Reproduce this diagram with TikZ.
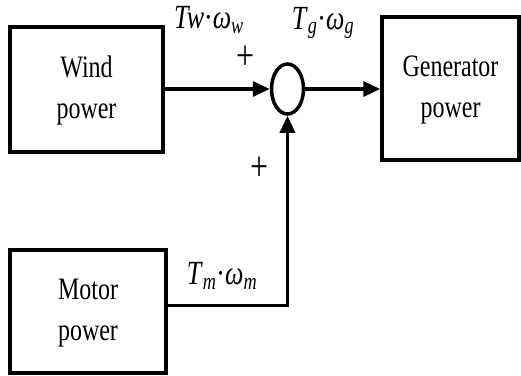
\documentclass[tikz,border=0pt]{standalone}
\usepackage{fontspec}
\setmainfont{Liberation Serif}
\usetikzlibrary{arrows.meta,shapes.geometric}
\newcommand{\tall}[1]{\scalebox{1}[1.3]{#1}}
\begin{document}
\begin{tikzpicture}[
    x=1pt, y=-1pt,
    blk/.style={rectangle, draw=black, line width=3.5pt, align=center, inner sep=0pt, font=\fontsize{24}{32}\selectfont},
    sum/.style={ellipse, draw=black, line width=3.5pt, minimum width=32pt, minimum height=50pt, inner sep=0pt},
    lbl/.style={inner sep=0pt, font=\fontsize{26}{28}\selectfont},
    arr/.style={->, >={Triangle[length=17pt,width=15pt]}, line width=3.5pt}
]
    \useasboundingbox (0,0) rectangle (521,375);

    % Blocks
    \node[blk, minimum width=153pt, minimum height=125pt] (wind) at (86.5,89.5) {\tall{\begin{tabular}{c}Wind\\power\end{tabular}}};
    \node[blk, minimum width=137pt, minimum height=143pt] (gen) at (450.5,88.5) {\tall{\begin{tabular}{c}Generator\\power\end{tabular}}};
    \node[blk, minimum width=156pt, minimum height=123pt] (motor) at (88,311.5) {\tall{\begin{tabular}{c}Motor\\power\end{tabular}}};
    \node[sum] (s) at (287.5,89) {};

    % Connections
    \draw[arr] (wind.east |- s) -- (s.west);
    \draw[arr] (s.east) -- (gen.west |- s);
    \draw[arr] ([yshift=6pt]motor.east) -| (s.south);

    % Labels
    \node[lbl] (lw) at (209,20) {\tall{\textit{Tw}·\textit{ω}\textsubscript{\textit{w}}}};
    \node[lbl] (lg) at (323,23) {\tall{\textit{T}\textsubscript{\textit{g}}·\textit{ω}\textsubscript{\textit{g}}}};
    \node[lbl] (lm) at (222,276) {\tall{\textit{T}\textsubscript{\textit{m}}·\textit{ω}\textsubscript{\textit{m}}}};
    \node[lbl, font=\fontsize{32}{34}\selectfont] (p1) at (246,58) {\tall{+}};
    \node[lbl, font=\fontsize{32}{34}\selectfont] (p2) at (260,169) {\tall{+}};
\end{tikzpicture}
\end{document}
